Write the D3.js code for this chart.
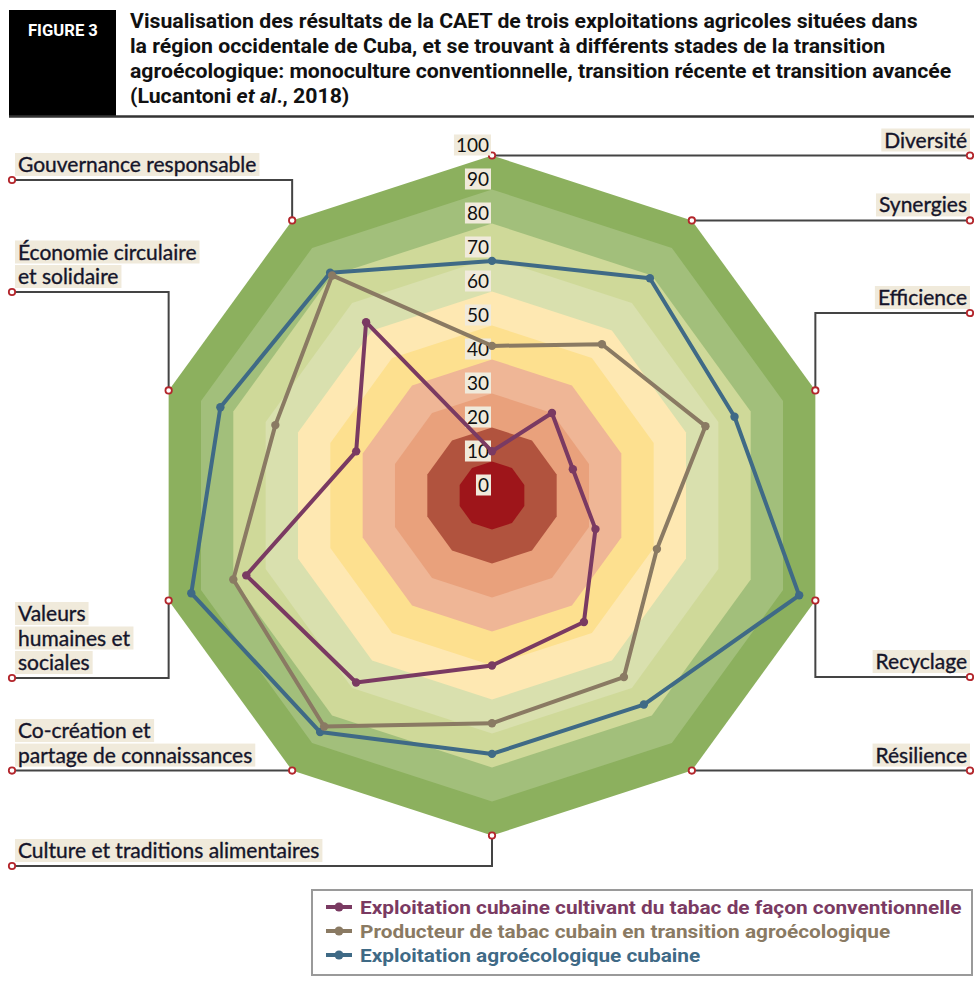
<!DOCTYPE html>
<html>
<head>
<meta charset="utf-8">
<script src="https://cdn.jsdelivr.net/npm/d3@7"></script>
<style>
  body { margin: 0; background: #fff; }
  svg { display: block; }
</style>
</head>
<body>
<div id="chart"></div>
<script>
// data
const axes = ["Diversité", "Synergies", "Efficience", "Recyclage", "Résilience",
  "Culture et traditions alimentaires", "Co-création et partage de connaissances",
  "Valeurs humaines et sociales", "Économie circulaire et solidaire", "Gouvernance responsable"];
// wrapped label text for each axis
const axisLabels = [["Diversité"], ["Synergies"], ["Efficience"], ["Recyclage"], ["Résilience"],
  ["Culture et traditions alimentaires"], ["Co-création et", "partage de connaissances"],
  ["Valeurs", "humaines et", "sociales"], ["Économie circulaire", "et solidaire"], ["Gouvernance responsable"]];
const conventional = [13, 30, 25, 32, 46, 50, 68, 76, 42, 63];
const transition = [44, 55, 66, 51, 66, 67, 84, 80, 67, 80];
const agroeco = [69, 79, 75, 95, 76, 76, 86, 93, 84, 81];
const seriesNames = ["Exploitation cubaine cultivant du tabac de façon conventionnelle",
  "Producteur de tabac cubain en transition agroécologique",
  "Exploitation agroécologique cubaine"];
const ticks = [0, 10, 20, 30, 40, 50, 60, 70, 80, 90, 100];
const titleLines = ["Visualisation des résultats de la CAET de trois exploitations agricoles situées dans",
  "la région occidentale de Cuba, et se trouvant à différents stades de la transition",
  "agroécologique: monoculture conventionnelle, transition récente et transition avancée"];

// colours
const bandColors = ["#9e151a", "#b1533e", "#e9a17c", "#efb696", "#fde08f",
  "#fee8b2", "#d9e0ae", "#cfd999", "#a2bf7b", "#8cb05e"];
const seriesColors = ["#7a3a62", "#8a7a63", "#3f6a86"];
const beige = "#f0eadb";

const width = 974, height = 984;
const cx = 492, cy = 495.5, R = 340;
const rScale = d3.scaleLinear().domain([0, 100]).range([0, R]);
const angle = d3.scaleLinear().domain([0, axes.length]).range([0, 2 * Math.PI]);
const pt = (i, v) => [cx + rScale(v) * Math.sin(angle(i)), cy - rScale(v) * Math.cos(angle(i))];

const svg = d3.select('#chart').append('svg')
  .attr('width', width).attr('height', height);

// header
svg.append('rect').attr('x', 9).attr('y', 10).attr('width', 107).attr('height', 106).attr('fill', '#000');
svg.append('line').attr('x1', 9).attr('x2', 974).attr('y1', 116.5).attr('y2', 116.5)
  .attr('stroke', '#333').attr('stroke-width', 2.5);
const fig = svg.append('text').attr('x', 0).attr('y', 0)
  .attr('fill', '#fff').attr('font-family', 'Roboto').attr('font-weight', 700)
  .attr('font-size', 17).text('FIGURE 3');
const fw = fig.node().getComputedTextLength();
fig.attr('transform', `translate(28,36) scale(${70 / fw},1)`);

const titleG = svg.append('g');
titleLines.forEach((t, i) => {
  titleG.append('text').attr('x', 0).attr('y', 28 + i * 25)
    .attr('font-family', 'Roboto').attr('font-weight', 700).attr('font-size', 20)
    .attr('fill', '#111').text(t);
});
const last = titleG.append('text').attr('x', 0).attr('y', 28 + 3 * 25)
  .attr('font-family', 'Roboto').attr('font-weight', 700).attr('font-size', 20).attr('fill', '#111');
last.append('tspan').text('(Lucantoni ');
last.append('tspan').attr('font-style', 'italic').text('et al');
last.append('tspan').text('., 2018)');
const tw = titleG.select('text').node().getComputedTextLength();
titleG.attr('transform', `translate(130,0) scale(${788 / tw},1)`);

// background bands, outer first
const bands = d3.range(10, 0, -1);
svg.append('g').selectAll('path').data(bands).join('path')
  .attr('d', b => d3.line()(axes.map((a, i) => pt(i, b * 10))) + 'Z')
  .attr('fill', b => bandColors[b - 1]);

// connectors and axis labels
const layout = [
  { side: 'r', y: null }, { side: 'r', y: null }, { side: 'r', y: 313 }, { side: 'r', y: 677 },
  { side: 'r', y: null }, { side: 'l', y: 866 }, { side: 'l', y: null }, { side: 'l', y: 678 },
  { side: 'l', y: 292 }, { side: 'l', y: 180 }
];
const labG = svg.append('g');
axes.forEach((a, i) => {
  const [vx, vy] = pt(i, 100);
  const L = layout[i];
  const ey = L.y == null ? vy : L.y;
  const ex = L.side === 'r' ? 970 : 12;
  labG.append('path')
    .attr('d', d3.line()([[vx, vy], [vx, ey], [ex, ey]]))
    .attr('fill', 'none').attr('stroke', '#444').attr('stroke-width', 2);
  const lines = axisLabels[i];
  lines.forEach((t, j) => {
    const by = ey - 8 - (lines.length - 1 - j) * 24.5;
    const txt = labG.append('text')
      .attr('x', L.side === 'r' ? 967 : 18).attr('y', by)
      .attr('text-anchor', L.side === 'r' ? 'end' : 'start')
      .attr('font-family', 'Lato').attr('font-size', 21).attr('fill', '#15152a')
      .attr('stroke', '#15152a').attr('stroke-width', 0.35).text(t);
    const bb = txt.node().getBBox();
    labG.insert('rect', 'text').attr('x', bb.x - 3).attr('y', bb.y + 2)
      .attr('width', bb.width + 6).attr('height', bb.height - 2).attr('fill', beige);
  });
  [[vx, vy], [ex, ey]].forEach(p => {
    labG.append('circle').attr('cx', p[0]).attr('cy', p[1]).attr('r', 3.2)
      .attr('fill', '#fff').attr('stroke', '#b3262c').attr('stroke-width', 1.8);
  });
});

// tick labels on the top axis
const tickG = svg.append('g');
ticks.forEach(t => {
  const y = cy - rScale(t) - 4;
  const txt = tickG.append('text').attr('x', 489).attr('y', y).attr('text-anchor', 'end')
    .attr('font-family', 'Lato').attr('font-size', 19).attr('fill', '#111').text(t);
  const bb = txt.node().getBBox();
  tickG.insert('rect', 'text').attr('x', bb.x - 2).attr('y', bb.y + 2)
    .attr('width', bb.width + 4).attr('height', bb.height - 2).attr('fill', beige);
});

// series
const allSeries = [conventional, transition, agroeco];
const seriesG = svg.append('g');
[2, 1, 0].forEach(s => {
  const vals = allSeries[s];
  seriesG.append('path')
    .attr('d', d3.line()(vals.map((v, i) => pt(i, v))) + 'Z')
    .attr('fill', 'none').attr('stroke', seriesColors[s]).attr('stroke-width', 4)
    .attr('stroke-linejoin', 'round');
  seriesG.selectAll(null).data(vals).join('circle')
    .attr('cx', (v, i) => pt(i, v)[0]).attr('cy', (v, i) => pt(i, v)[1])
    .attr('r', 4.2).attr('fill', seriesColors[s]);
});

// legend
const lg = svg.append('g');
lg.append('rect').attr('x', 312).attr('y', 890).attr('width', 660).attr('height', 85)
  .attr('fill', '#fff').attr('stroke', '#9a9a9a').attr('stroke-width', 2);
const legTexts = [];
seriesNames.forEach((n, i) => {
  const y = 907 + i * 24;
  lg.append('line').attr('x1', 326).attr('x2', 352).attr('y1', y).attr('y2', y)
    .attr('stroke', seriesColors[i]).attr('stroke-width', 4);
  lg.append('circle').attr('cx', 339).attr('cy', y).attr('r', 4.5).attr('fill', seriesColors[i]);
  legTexts.push(lg.append('text').attr('x', 0).attr('y', 0)
    .attr('font-family', 'Roboto').attr('font-weight', 700).attr('font-size', 19)
    .attr('fill', seriesColors[i]).text(n));
});
const lw = legTexts[0].node().getComputedTextLength();
legTexts.forEach((t, i) => t.attr('transform', `translate(360,${907 + i * 24 + 6.5}) scale(${602 / lw},1)`));
</script>
</body>
</html>
